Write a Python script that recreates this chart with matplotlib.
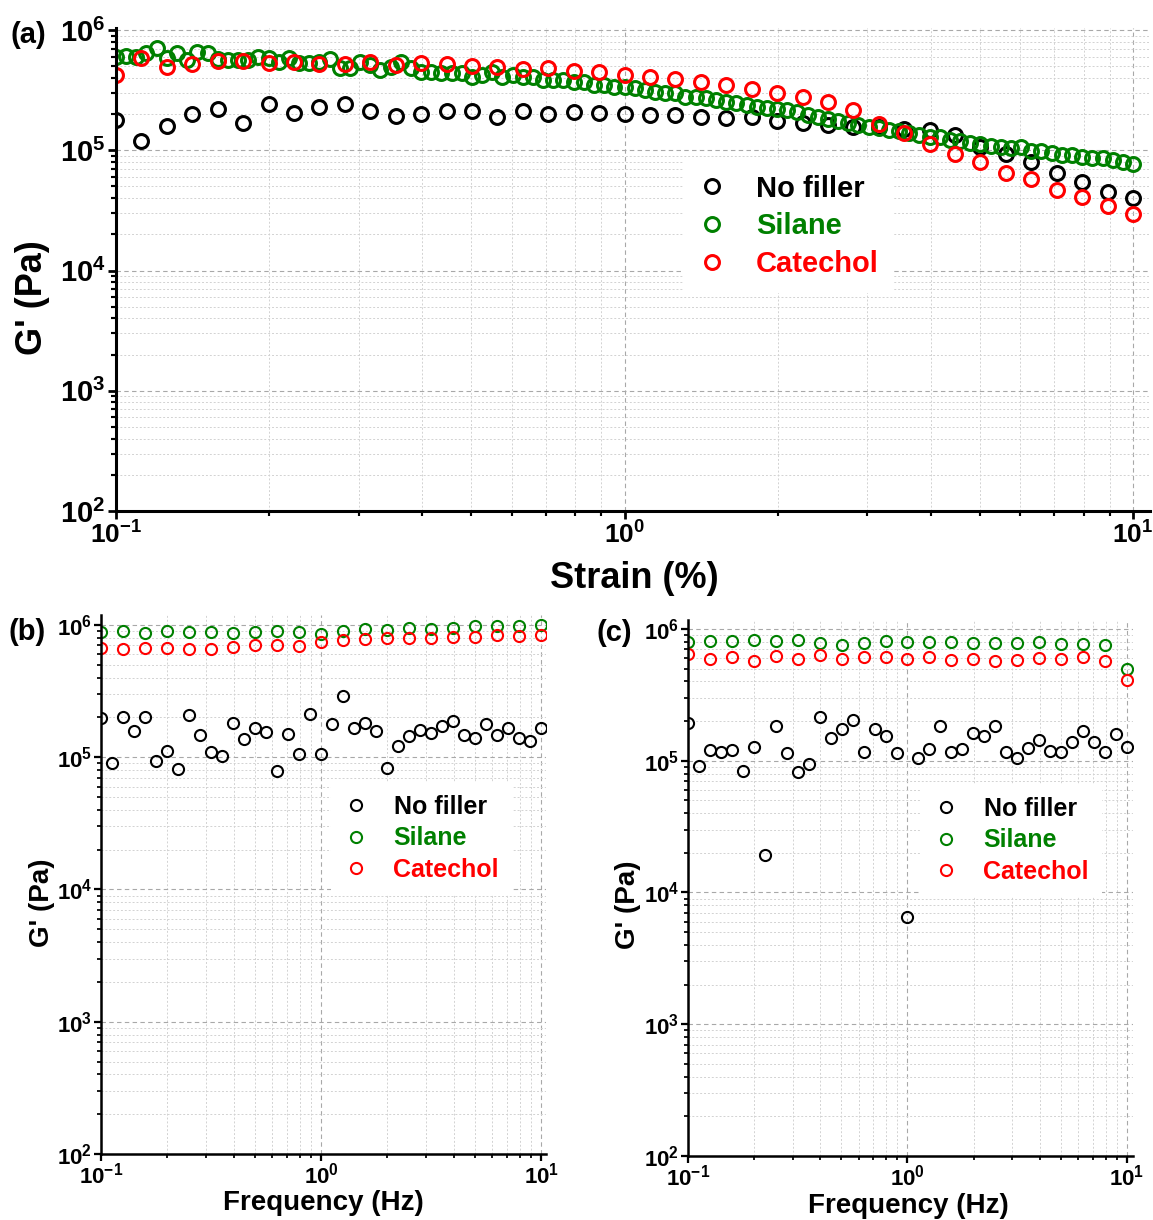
import matplotlib
matplotlib.use("Agg")
import matplotlib.pyplot as plt
from matplotlib.lines import Line2D
from matplotlib.ticker import LogLocator, NullFormatter
import numpy as np

plt.rcParams["font.family"] = ["Liberation Sans", "DejaVu Sans"]
plt.rcParams["font.weight"] = "bold"
plt.rcParams["mathtext.fontset"] = "custom"
plt.rcParams["mathtext.rm"] = "Liberation Sans:bold"
plt.rcParams["mathtext.bf"] = "Liberation Sans:bold"
plt.rcParams["mathtext.it"] = "Liberation Sans:bold"
plt.rcParams["mathtext.default"] = "bf"

BLACK = "#000000"
GREEN = "#008000"
RED = "#ff0000"
LABELS = ["No filler", "Silane", "Catechol"]

# ---------------- (a) strain sweep ----------------
# 20 points / decade (no filler, catechol)
strain_20 = [0.1, 0.1122, 0.1259, 0.1413, 0.1585, 0.1778, 0.1995, 0.2239, 0.2512, 0.2818,
             0.3162, 0.3548, 0.3981, 0.4467, 0.5012, 0.5623, 0.6310, 0.7079, 0.7943, 0.8913,
             1.0, 1.122, 1.259, 1.413, 1.585, 1.778, 1.995, 2.239, 2.512, 2.818,
             3.162, 3.548, 3.981, 4.467, 5.012, 5.623, 6.310, 7.079, 7.943, 8.913, 10.0]
# 50 points / decade (silane)
strain_50 = [0.1, 0.1047, 0.1096, 0.1148, 0.1202, 0.1259, 0.1318, 0.1380, 0.1445, 0.1514,
             0.1585, 0.1660, 0.1738, 0.1820, 0.1905, 0.1995, 0.2089, 0.2188, 0.2291, 0.2399,
             0.2512, 0.2630, 0.2754, 0.2884, 0.3020, 0.3162, 0.3311, 0.3467, 0.3631, 0.3802,
             0.3981, 0.4169, 0.4365, 0.4571, 0.4786, 0.5012, 0.5248, 0.5495, 0.5754, 0.6026,
             0.6310, 0.6607, 0.6918, 0.7244, 0.7586, 0.7943, 0.8318, 0.8710, 0.9120, 0.9550,
             1.0, 1.047, 1.096, 1.148, 1.202, 1.259, 1.318, 1.380, 1.445, 1.514,
             1.585, 1.660, 1.738, 1.820, 1.905, 1.995, 2.089, 2.188, 2.291, 2.399,
             2.512, 2.630, 2.754, 2.884, 3.020, 3.162, 3.311, 3.467, 3.631, 3.802,
             3.981, 4.169, 4.365, 4.571, 4.786, 5.012, 5.248, 5.495, 5.754, 6.026,
             6.310, 6.607, 6.918, 7.244, 7.586, 7.943, 8.318, 8.710, 9.120, 9.550, 10.0]

a_nofiller = [1.79e5, 1.19e5, 1.59e5, 2.0e5, 2.2e5, 1.69e5, 2.43e5, 2.04e5, 2.29e5, 2.43e5,
              2.12e5, 1.93e5, 2.0e5, 2.12e5, 2.12e5, 1.89e5, 2.12e5, 2.0e5, 2.08e5, 2.04e5,
              2.0e5, 1.96e5, 1.96e5, 1.89e5, 1.85e5, 1.89e5, 1.75e5, 1.69e5, 1.62e5, 1.56e5,
              1.55e5, 1.50e5, 1.47e5, 1.34e5, 1.07e5, 9.3e4, 7.98e4, 6.47e4, 5.45e4, 4.5e4, 4.0e4]
a_catechol = [4.22e5, 5.85e5, 4.92e5, 5.21e5, 5.52e5, 5.52e5, 5.32e5, 5.42e5, 5.21e5, 5.21e5,
              5.42e5, 5.12e5, 5.32e5, 5.21e5, 5.02e5, 4.92e5, 4.74e5, 4.83e5, 4.56e5, 4.48e5,
              4.22e5, 4.06e5, 3.92e5, 3.70e5, 3.49e5, 3.23e5, 2.99e5, 2.77e5, 2.52e5, 2.16e5,
              1.65e5, 1.39e5, 1.13e5, 9.3e4, 7.98e4, 6.47e4, 5.77e4, 4.67e4, 4.08e4, 3.44e4, 2.95e4]
a_silane = [5.96e5, 6.08e5, 5.96e5, 6.44e5, 7.08e5, 5.85e5, 6.44e5, 5.63e5, 6.56e5, 6.44e5,
            5.74e5, 5.63e5, 5.63e5, 5.63e5, 5.96e5, 5.85e5, 5.42e5, 5.85e5, 5.32e5, 5.32e5,
            5.42e5, 5.74e5, 4.83e5, 4.83e5, 5.42e5, 5.12e5, 4.65e5, 4.92e5, 5.42e5, 4.83e5,
            4.48e5, 4.48e5, 4.39e5, 4.39e5, 4.39e5, 4.06e5, 4.22e5, 4.48e5, 4.06e5, 4.22e5,
            4.06e5, 4.06e5, 3.84e5, 3.84e5, 3.84e5, 3.70e5, 3.70e5, 3.49e5, 3.49e5, 3.36e5,
            3.36e5, 3.30e5, 3.17e5, 3.05e5, 2.99e5, 2.99e5, 2.77e5, 2.77e5, 2.72e5, 2.62e5,
            2.52e5, 2.47e5, 2.38e5, 2.29e5, 2.24e5, 2.20e5, 2.16e5, 2.08e5, 1.96e5, 1.89e5,
            1.82e5, 1.75e5, 1.69e5, 1.62e5, 1.56e5, 1.53e5, 1.47e5, 1.45e5, 1.39e5, 1.34e5,
            1.29e5, 1.29e5, 1.22e5, 1.19e5, 1.15e5, 1.13e5, 1.08e5, 1.06e5, 1.04e5, 1.06e5,
            9.86e4, 9.86e4, 9.49e4, 9.12e4, 9.12e4, 8.79e4, 8.63e4, 8.63e4, 8.30e4, 7.98e4, 7.69e4]

# ---------------- (b), (c) frequency sweeps ----------------
freq_20 = strain_20
freq_10 = [0.1, 0.1259, 0.1585, 0.1995, 0.2512, 0.3162, 0.3981, 0.5012, 0.6310, 0.7943,
           1.0, 1.259, 1.585, 1.995, 2.512, 3.162, 3.981, 5.012, 6.310, 7.943, 10.0]

b_nofiller = [1.97e5, 9.06e4, 2.03e5, 1.57e5, 2.0e5, 9.33e4, 1.12e5, 8.17e4, 2.10e5, 1.48e5,
              1.09e5, 1.02e5, 1.82e5, 1.38e5, 1.67e5, 1.55e5, 7.84e4, 1.50e5, 1.06e5, 2.13e5,
              1.05e5, 1.79e5, 2.92e5, 1.67e5, 1.82e5, 1.59e5, 8.26e4, 1.22e5, 1.44e5, 1.61e5,
              1.53e5, 1.71e5, 1.89e5, 1.48e5, 1.39e5, 1.79e5, 1.48e5, 1.67e5, 1.39e5, 1.32e5, 1.66e5]
b_silane = [8.80e5, 8.96e5, 8.70e5, 8.96e5, 8.80e5, 8.91e5, 8.65e5, 8.91e5, 9.06e5, 8.91e5,
            8.55e5, 9.06e5, 9.33e5, 9.22e5, 9.44e5, 9.33e5, 9.44e5, 9.77e5, 9.77e5, 9.77e5, 1.006e6]
b_catechol = [6.66e5, 6.59e5, 6.66e5, 6.70e5, 6.59e5, 6.59e5, 6.86e5, 7.10e5, 7.10e5, 6.90e5,
              7.40e5, 7.75e5, 7.84e5, 7.93e5, 7.93e5, 7.97e5, 8.07e5, 8.16e5, 8.40e5, 8.30e5, 8.45e5]

c_nofiller = [1.93e5, 9.06e4, 1.20e5, 1.16e5, 1.20e5, 8.40e4, 1.27e5, 1.93e4, 1.82e5, 1.14e5,
              8.20e4, 9.49e4, 2.15e5, 1.49e5, 1.74e5, 2.05e5, 1.16e5, 1.75e5, 1.53e5, 1.14e5,
              6.46e3, 1.04e5, 1.23e5, 1.82e5, 1.16e5, 1.23e5, 1.62e5, 1.53e5, 1.82e5, 1.16e5,
              1.05e5, 1.25e5, 1.44e5, 1.19e5, 1.16e5, 1.38e5, 1.67e5, 1.38e5, 1.16e5, 1.60e5, 1.27e5]
c_silane = [7.92e5, 8.06e5, 8.06e5, 8.20e5, 8.06e5, 8.20e5, 7.83e5, 7.51e5, 7.83e5, 8.06e5,
            7.92e5, 7.92e5, 7.97e5, 7.83e5, 7.83e5, 7.83e5, 7.92e5, 7.69e5, 7.69e5, 7.60e5, 4.97e5]
c_catechol = [6.46e5, 5.95e5, 6.09e5, 5.68e5, 6.28e5, 5.95e5, 6.31e5, 5.92e5, 6.09e5, 6.09e5,
              5.92e5, 6.09e5, 5.78e5, 5.92e5, 5.68e5, 5.85e5, 6.02e5, 5.95e5, 6.13e5, 5.68e5, 4.12e5]

W, H = 1153, 1220


def fbox(l, t, r, b):
    # pixel box -> figure fraction [left, bottom, width, height]
    return [l / W, 1 - b / H, (r - l) / W, (b - t) / H]


def style_axes(ax, spine_w, xtick_fs, ytick_fs, major_len, minor_len):
    ax.set_xscale("log")
    ax.set_yscale("log")
    for s in ("top", "right"):
        ax.spines[s].set_visible(False)
    for s in ("left", "bottom"):
        ax.spines[s].set_linewidth(spine_w)
    ax.tick_params(which="major", direction="out", length=major_len,
                   width=spine_w * 0.9, pad=1.5)
    ax.tick_params(axis="x", labelsize=xtick_fs)
    ax.tick_params(axis="y", labelsize=ytick_fs)
    ax.tick_params(which="minor", direction="out", length=minor_len,
                   width=spine_w * 0.7)
    ax.yaxis.set_major_locator(LogLocator(base=10, numticks=10))
    ax.yaxis.set_minor_locator(LogLocator(base=10, subs=np.arange(2, 10), numticks=20))
    ax.xaxis.set_minor_formatter(NullFormatter())
    ax.yaxis.set_minor_formatter(NullFormatter())
    ax.grid(which="major", color="#a8a8a8", ls=(0, (4, 3)), lw=0.8)
    ax.grid(which="minor", color="#d2d2d2", ls=(0, (2, 2)), lw=0.7)
    ax.set_axisbelow(True)


def add_legend(ax, ms, mew, fs, x_px, y_px, spacing):
    handles = [Line2D([], [], ls="none", marker="o", mfc="none", mec=c, ms=ms, mew=mew)
               for c in (BLACK, GREEN, RED)]
    leg = ax.legend(handles, LABELS, loc="upper left",
                    bbox_to_anchor=(x_px / W, 1 - y_px / H), bbox_transform=fig.transFigure,
                    fontsize=fs, labelcolor="markeredgecolor", frameon=True,
                    facecolor="white", edgecolor="none", framealpha=1, fancybox=False,
                    handlelength=1.0, handletextpad=1.0, labelspacing=spacing,
                    borderpad=0.5, borderaxespad=0)
    for t in leg.get_texts():
        t.set_fontweight("bold")
    return leg


fig = plt.figure(figsize=(W / 100, H / 100), dpi=100)

# ---- panel (a) ----
ax_a = fig.add_axes(fbox(116, 28, 1150, 511))
style_axes(ax_a, 2.2, 19, 21, 6, 3.5)
ms_a, mew_a = 10, 2.2
ax_a.plot(strain_20, a_nofiller, ls="none", marker="o", mfc="none", mec=BLACK, ms=ms_a, mew=mew_a)
ax_a.plot(strain_50, a_silane, ls="none", marker="o", mfc="none", mec=GREEN, ms=ms_a, mew=mew_a)
ax_a.plot(strain_20, a_catechol, ls="none", marker="o", mfc="none", mec=RED, ms=ms_a, mew=mew_a)
ax_a.set_xlim(0.1, 10.8)
ax_a.set_ylim(1e2, 1.04e6)
add_legend(ax_a, ms_a, mew_a, 21, 683, 160, 0.34)

# ---- panel (b) ----
ax_b = fig.add_axes(fbox(101, 615, 546, 1154))
style_axes(ax_b, 1.8, 16, 16, 5, 3)
ms_b, mew_b = 8, 1.5
ax_b.plot(freq_20, b_nofiller, ls="none", marker="o", mfc="none", mec=BLACK, ms=ms_b, mew=mew_b)
ax_b.plot(freq_10, b_silane, ls="none", marker="o", mfc="none", mec=GREEN, ms=ms_b, mew=mew_b)
ax_b.plot(freq_10, b_catechol, ls="none", marker="o", mfc="none", mec=RED, ms=ms_b, mew=mew_b)
ax_b.set_xlim(0.1, 10.5)
ax_b.set_ylim(1e2, 1.19e6)
add_legend(ax_b, ms_b, mew_b, 18, 331, 782, 0.31)

# ---- panel (c) ----
ax_c = fig.add_axes(fbox(688, 620, 1133, 1156))
style_axes(ax_c, 1.8, 16, 16, 5, 3)
ax_c.plot(freq_20, c_nofiller, ls="none", marker="o", mfc="none", mec=BLACK, ms=ms_b, mew=mew_b)
ax_c.plot(freq_10, c_silane, ls="none", marker="o", mfc="none", mec=GREEN, ms=ms_b, mew=mew_b)
ax_c.plot(freq_10, c_catechol, ls="none", marker="o", mfc="none", mec=RED, ms=ms_b, mew=mew_b)
ax_c.set_xlim(0.1, 10.65)
ax_c.set_ylim(1e2, 1.17e6)
add_legend(ax_c, ms_b, mew_b, 18, 921, 784, 0.31)

# ---- axis titles and panel tags ----
def ftext(x_px, y_px, s, **kw):
    fig.text(x_px / W, 1 - y_px / H, s, fontweight="bold", **kw)

ftext(33, 298, "G' (Pa)", fontsize=26, rotation=90, ha="center", va="center")
ftext(634, 578, "Strain (%)", fontsize=26, ha="center", va="center")
ftext(10, 35, "(a)", fontsize=21, ha="left", va="center")

ftext(42, 903, "G' (Pa)", fontsize=20, rotation=90, ha="center", va="center")
ftext(323, 1203, "Frequency (Hz)", fontsize=20, ha="center", va="center")
ftext(8, 632, "(b)", fontsize=21, ha="left", va="center")

ftext(628, 905, "G' (Pa)", fontsize=20, rotation=90, ha="center", va="center")
ftext(908, 1206, "Frequency (Hz)", fontsize=20, ha="center", va="center")
ftext(597, 633, "(c)", fontsize=21, ha="left", va="center")

fig.savefig("out.png", dpi=100)
